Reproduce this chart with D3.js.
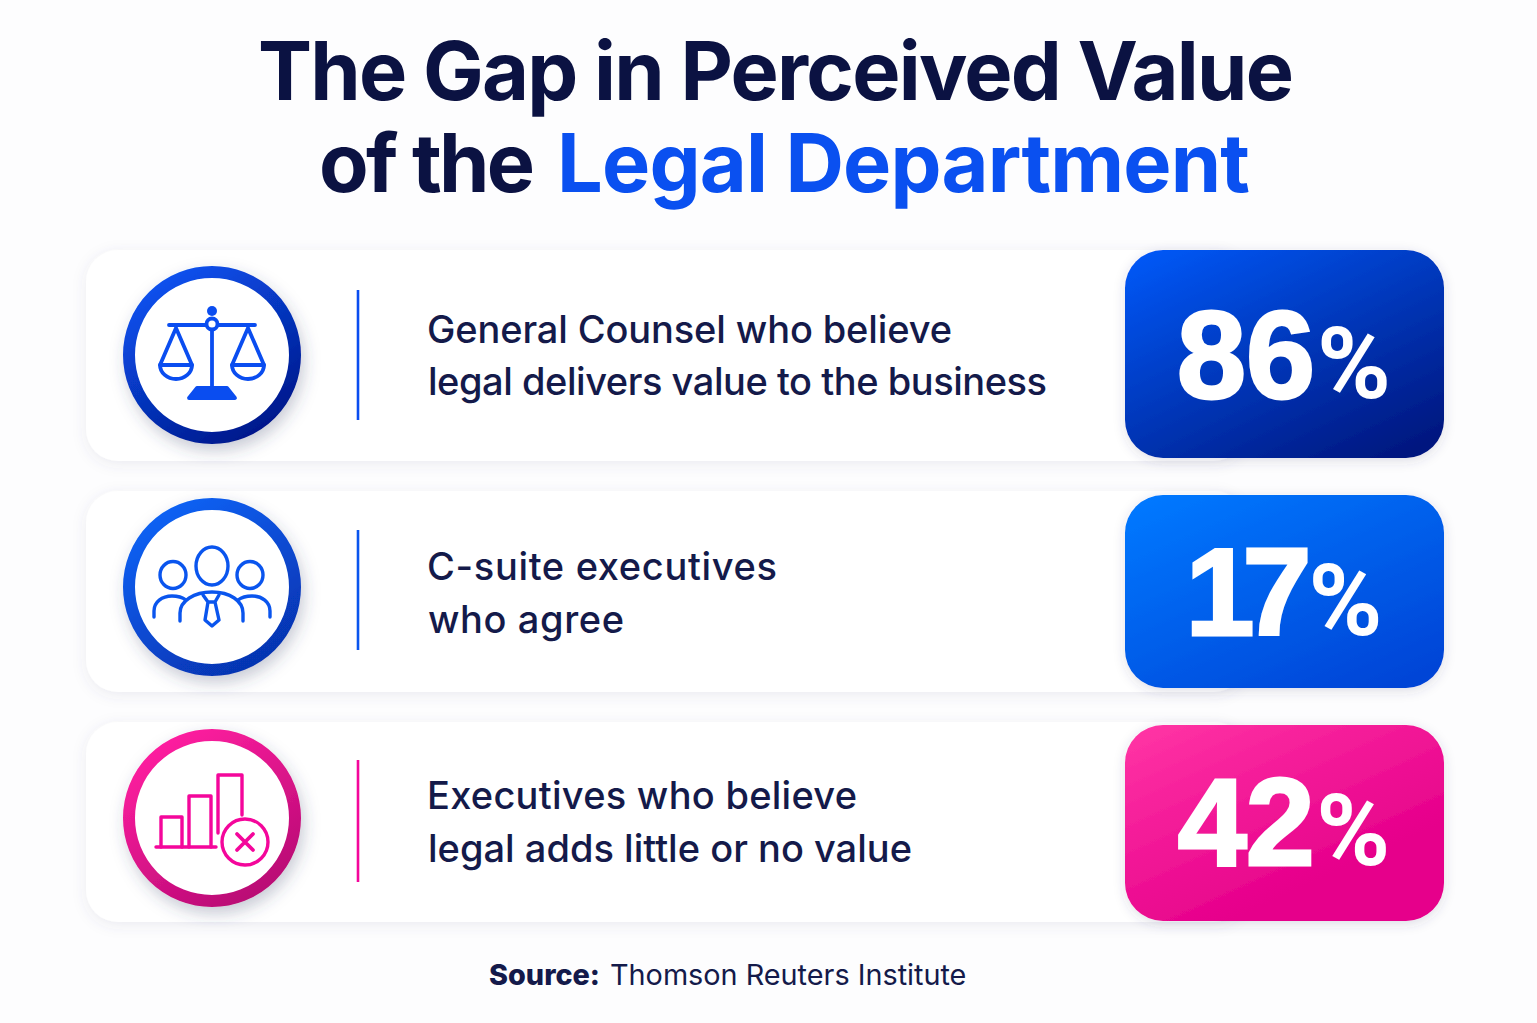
<!DOCTYPE html>
<html>
<head>
<meta charset="utf-8">
<script src="https://cdn.jsdelivr.net/npm/d3@7"></script>
<style>
html, body { margin: 0; padding: 0; background: #fdfdfe; }
svg { display: block; font-family: Inter, "Noto Sans", sans-serif; }
</style>
</head>
<body>
<div id="canvas"></div>
<script>
const titleTop = "The Gap in Perceived Value";
const titlePlain = "of the ";
const titleBlue = "Legal Department";
const firstLines = ["General Counsel who believe", "C-suite executives", "Executives who believe"];
const secondLines = ["legal delivers value to the business", "who agree", "legal adds little or no value"];
const values = [86, 17, 42];
const iconNames = ["scale", "people", "bars"];
const sourceLabel = "Source:";
const sourceName = "Thomson Reuters Institute";

// layout of each row
const rowBoxes = [
  { top: 250, bottom: 461, cy: 355, badgeTop: 250, badgeBottom: 458, lineTop: 290, lineBottom: 420, base1: 343, base2: 395, numBase: 398, len1: 525, len2: 619, digitGap: 0 },
  { top: 491, bottom: 692, cy: 587, badgeTop: 495, badgeBottom: 688, lineTop: 530, lineBottom: 650, base1: 580, base2: 633, numBase: 635, len1: 350, len2: 196, digitGap: -12 },
  { top: 722, bottom: 922, cy: 818, badgeTop: 725, badgeBottom: 921, lineTop: 760, lineBottom: 882, base1: 809, base2: 862, numBase: 865, len1: 430, len2: 484, digitGap: -1 }
];
const themes = [
  { accent: "#0a4df0", ring: ["#0a52f0", "#02178a"], badge: ["#0657f5", "#02177f"] },
  { accent: "#0a55ee", ring: ["#0a62f5", "#0633b0"], badge: ["#0478ff", "#0444d6"] },
  { accent: "#f4069b", ring: ["#ff1fa0", "#b80a74"], badge: ["#ff33a4", "#e6008b"] }
];

const width = 1537, height = 1023;
const svg = d3.select("#canvas").append("svg").attr("width", width).attr("height", height);
svg.append("rect").attr("width", width).attr("height", height).attr("fill", "#fdfdfe");

const defs = svg.append("defs");
function shadow(id, dx, dy, blur, op, col) {
  const f = defs.append("filter").attr("id", id)
    .attr("x", "-30%").attr("y", "-30%").attr("width", "160%").attr("height", "160%");
  f.append("feDropShadow").attr("dx", dx).attr("dy", dy).attr("stdDeviation", blur)
    .attr("flood-color", col).attr("flood-opacity", op);
}
shadow("cardShadow", 0, 3, 7, 0.10, "#4a5578");
shadow("ringShadow", 3, 7, 8, 0.28, "#3a4468");
shadow("badgeShadow", 0, 3, 6, 0.16, "#3a4468");

themes.forEach((t, i) => {
  const r = defs.append("linearGradient").attr("id", "ring" + i)
    .attr("x1", "15%").attr("y1", "5%").attr("x2", "75%").attr("y2", "100%");
  r.append("stop").attr("offset", "0%").attr("stop-color", t.ring[0]);
  r.append("stop").attr("offset", "100%").attr("stop-color", t.ring[1]);
  const b = defs.append("linearGradient").attr("id", "badge" + i)
    .attr("x1", "10%").attr("y1", "0%").attr("x2", "85%").attr("y2", "100%");
  b.append("stop").attr("offset", "0%").attr("stop-color", t.badge[0]);
  b.append("stop").attr("offset", i === 2 ? "75%" : "100%").attr("stop-color", t.badge[1]);
});

// title
const title = svg.append("g").attr("font-weight", 700)
  .attr("font-size", 81).attr("fill", "#0b1242");
title.append("text").attr("x", 258).attr("y", 100)
  .attr("textLength", 1036).attr("lengthAdjust", "spacing").text(titleTop);
title.append("text").attr("x", 319).attr("y", 192)
  .attr("textLength", 216).attr("lengthAdjust", "spacing").text(titlePlain.trim());
title.append("text").attr("x", 557).attr("y", 192).attr("fill", "#0a50f0")
  .attr("textLength", 693).attr("lengthAdjust", "spacing").text(titleBlue);

const rows = svg.selectAll("g.row")
  .data(values.map((v, i) => ({ v, i, box: rowBoxes[i], theme: themes[i] })))
  .enter().append("g").attr("class", "row");

rows.append("rect")
  .attr("x", 86).attr("y", d => d.box.top)
  .attr("width", 1160).attr("height", d => d.box.bottom - d.box.top)
  .attr("rx", 32).attr("fill", "#ffffff").attr("filter", "url(#cardShadow)");

rows.append("circle")
  .attr("cx", 212).attr("cy", d => d.box.cy).attr("r", 83)
  .attr("fill", "#fff").attr("stroke", d => `url(#ring${d.i})`).attr("stroke-width", 12)
  .attr("filter", "url(#ringShadow)");

rows.append("line")
  .attr("x1", 358).attr("x2", 358)
  .attr("y1", d => d.box.lineTop).attr("y2", d => d.box.lineBottom)
  .attr("stroke", d => d.theme.accent).attr("stroke-width", 2.6);

const labels = rows.append("g").attr("font-size", 38).attr("font-weight", 500).attr("fill", "#141a4a");
labels.append("text").attr("x", 427).attr("y", d => d.box.base1)
  .attr("textLength", d => d.box.len1).attr("lengthAdjust", "spacing").text(d => firstLines[d.i]);
labels.append("text").attr("x", 428).attr("y", d => d.box.base2)
  .attr("textLength", d => d.box.len2).attr("lengthAdjust", "spacing").text(d => secondLines[d.i]);

rows.append("rect")
  .attr("x", 1125).attr("y", d => d.box.badgeTop)
  .attr("width", 319).attr("height", d => d.box.badgeBottom - d.box.badgeTop)
  .attr("rx", 38).attr("fill", d => `url(#badge${d.i})`).attr("filter", "url(#badgeShadow)");

const num = rows.append("text")
  .attr("x", 1284).attr("y", d => d.box.numBase).attr("text-anchor", "middle").attr("fill", "#fff");
num.append("tspan").attr("font-family", "Liberation Sans").attr("font-size", 124).attr("font-weight", 700)
  .attr("stroke", "#fff").attr("stroke-width", 3).attr("letter-spacing", d => d.box.digitGap).text(d => d.v);
num.append("tspan").attr("dx", d => 2 - d.box.digitGap * 0.6).attr("font-family", "Roboto")
  .attr("font-size", 100).attr("font-weight", 700).text("%");

// icons, drawn round the ring centre
const icons = rows.append("g")
  .attr("transform", d => `translate(212,${d.box.cy})`)
  .attr("fill", "none").attr("stroke", d => d.theme.accent)
  .attr("stroke-width", 3.4).attr("stroke-linecap", "round").attr("stroke-linejoin", "round");

const draw = {
  scale(g) {
    g.attr("stroke-width", 3.8);
    g.append("path").attr("d", "M-43,-30H43M0,-26V33");
    g.append("circle").attr("cy", -44).attr("r", 5).attr("fill", "#0a4df0").attr("stroke", "none");
    g.append("circle").attr("cy", -31).attr("r", 5.5).attr("fill", "#fff");
    g.append("path").attr("fill", "#0a4df0").attr("d", "M-23,43L-15,33H15L23,43Z");
    [-36, 36].forEach(c => {
      g.append("path").attr("d", `M${c},-27L${c - 16},10H${c + 16}Z`);
      g.append("path").attr("d", `M${c - 16},10A16,14 0 0 0 ${c + 16},10`);
    });
  },
  people(g) {
    g.append("ellipse").attr("cy", -21).attr("rx", 16).attr("ry", 19);
    g.append("ellipse").attr("cx", -39).attr("cy", -12).attr("rx", 13).attr("ry", 13.5);
    g.append("ellipse").attr("cx", 38).attr("cy", -12).attr("rx", 13).attr("ry", 13.5);
    g.append("path").attr("d", "M-32,34V26C-32,14 -18,5 0,5C18,5 31,14 31,26V34");
    g.append("path").attr("d", "M-58,30V24C-58,15 -50,9 -40,9C-34,9 -30,10 -26,13");
    g.append("path").attr("d", "M58,30V24C58,15 50,9 40,9C34,9 30,10 26,13");
    g.append("path").attr("d", "M-9,8L-4,15H3L7,8M-4,15L-7,33L0,39L7,33L3,15");
  },
  bars(g) {
    g.append("path").attr("d", "M-56,29H4");
    g.append("path").attr("d", "M-51,29V-1H-30V29");
    g.append("path").attr("d", "M-23,29V-22H-1V29");
    g.append("path").attr("d", "M6,15V-43H30V-3");
    g.append("circle").attr("cx", 33).attr("cy", 24).attr("r", 23);
    g.append("path").attr("d", "M25,16L41,32M41,16L25,32").attr("stroke-width", 3.8);
  }
};
icons.each(function (d) { draw[iconNames[d.i]](d3.select(this)); });

// source line
const src = svg.append("text").attr("x", 489).attr("y", 985)
  .attr("font-size", 28.8).attr("fill", "#141a4a");
src.append("tspan").attr("font-weight", 800).text(sourceLabel);
src.append("tspan").attr("x", 610).text(sourceName);
</script>
</body>
</html>
